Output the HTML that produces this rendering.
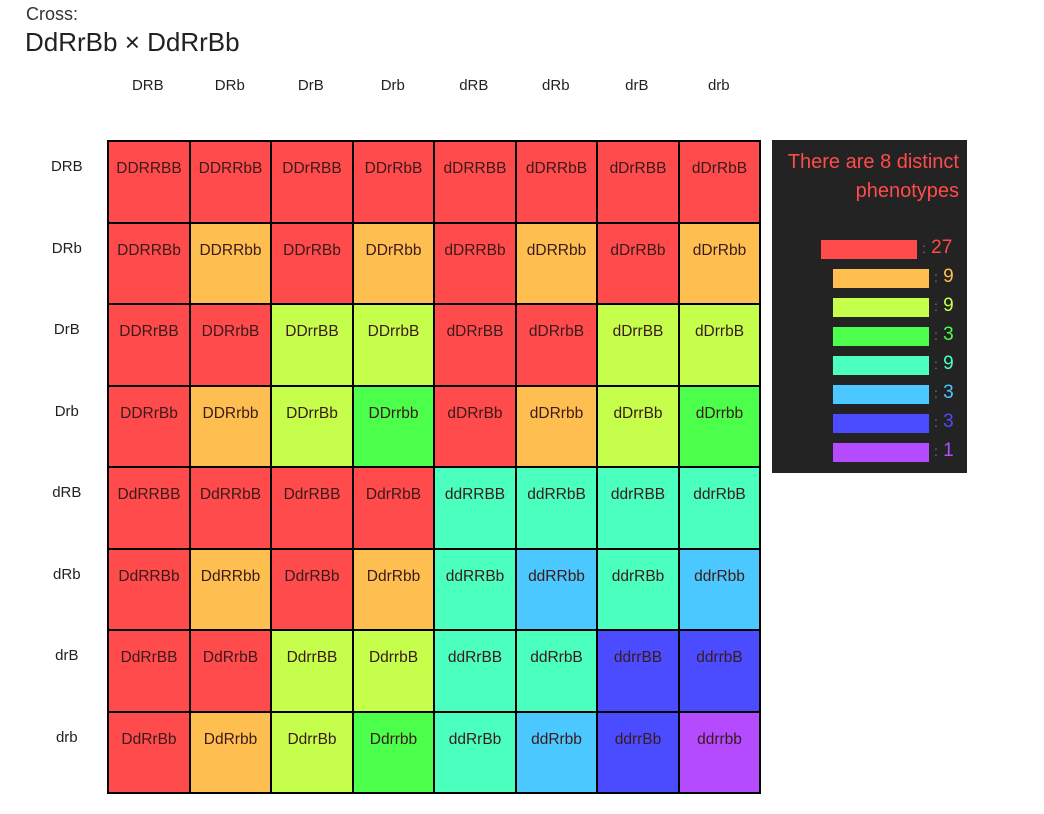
<!DOCTYPE html><html><head><style>
body{margin:0;width:1044px;height:814px;background:#fff;font-family:"Liberation Sans","DejaVu Sans",sans-serif;position:relative;overflow:hidden}
.a{position:absolute}
.c{position:absolute;box-sizing:border-box;font-size:15.5px;color:#3a1a1a;text-align:center;padding-top:18px}
.h{position:absolute;font-size:15px;color:#222;text-align:center;width:81.6px}
</style></head><body>
<div class="a" style="left:26px;top:4px;font-size:18px;color:#333">Cross:</div>
<div class="a" style="left:25px;top:27px;font-size:26px;color:#222">DdRrBb × DdRrBb</div>
<div class="a" style="left:107px;top:140px;width:654px;height:654px;background:#000"></div>
<div id="g"></div>
<div class="a" style="left:772px;top:140px;width:195px;height:333px;background:#232323"></div>
<div class="a" style="left:772px;top:148px;width:187px;text-align:right;color:#ff4b4b;font-size:20px;line-height:29px">There are 8 distinct<br>phenotypes</div>
<div id="l"></div>
<script>
var g=["DRB","DRb","DrB","Drb","dRB","dRb","drB","drb"];
var xs=[107,189,270,352,433,515,596,678,759],ys=[140,222,303,385,466,548,629,711,792];
var cols=["#ff4b4b","#ffbf50","#c6ff4b","#4bff4b","#4bffbe","#4bc8ff","#4b4bff","#b44bff"];
var h="";
for(var i=0;i<8;i++){
h+='<div class="h" style="left:'+xs[i]+'px;top:77px">'+g[i]+'</div>';
h+='<div class="h" style="left:26px;top:'+(ys[i]+18)+'px">'+g[i]+'</div>';
for(var j=0;j<8;j++){var r=g[i],c=g[j],s="";
for(var k=0;k<3;k++)s+=c[k]+r[k];
var d=(s[0]=='D'||s[1]=='D'),R=(s[2]=='R'||s[3]=='R'),B=(s[4]=='B'||s[5]=='B');
var idx=(d?0:4)+(R?0:2)+(B?0:1);
h+='<div class="c" style="left:'+(xs[j]+2)+'px;top:'+(ys[i]+2)+'px;width:'+(xs[j+1]-xs[j]-2)+'px;height:'+(ys[i+1]-ys[i]-2)+'px;background:'+cols[idx]+'">'+s+'</div>';}}
document.getElementById("g").innerHTML=h;
var n=[27,9,9,3,9,3,3,1],l="";
for(var i=0;i<8;i++){var x=i==0?821:833,y=240+i*29;
l+='<div class="a" style="left:'+x+'px;top:'+y+'px;width:96px;height:19px;background:'+cols[i]+'"></div>';
l+='<div class="a" style="left:'+(x+101)+'px;top:'+(y-3)+'px;font-size:19px;color:'+cols[i]+'"><span style="font-size:14px;color:#777">:</span> '+n[i]+'</div>';}
document.getElementById("l").innerHTML=l;
</script>
</body></html>
